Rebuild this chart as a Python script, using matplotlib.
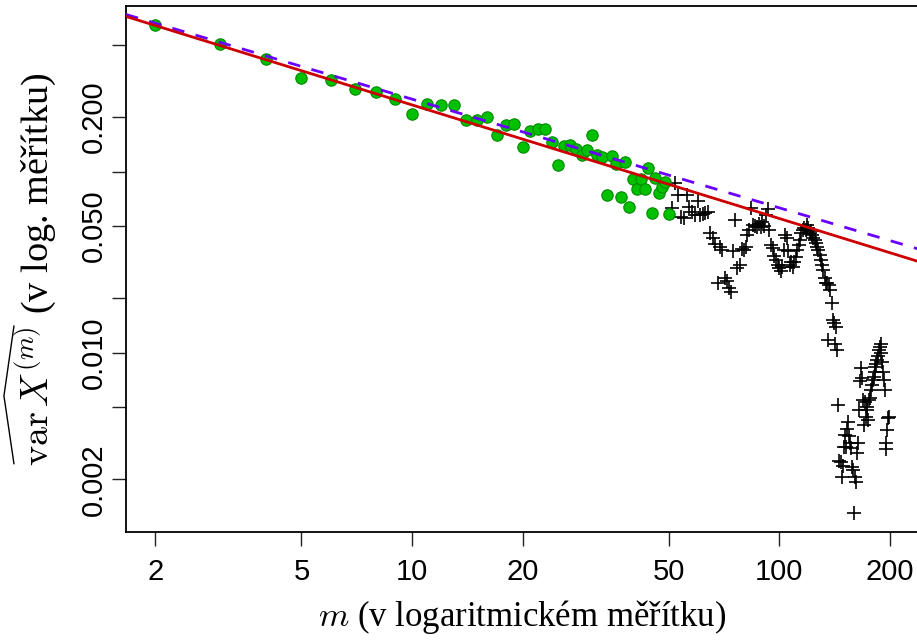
import numpy as np
import matplotlib
matplotlib.use("Agg")
import matplotlib.pyplot as plt
from matplotlib.lines import Line2D

# aggregated variance, m = 2..50 (used for the fit)
m_fit = np.arange(2, 51)
var_fit = [0.643, 0.5095, 0.416, 0.328, 0.319, 0.286, 0.274, 0.253, 0.2086, 0.2375,
           0.2321, 0.232, 0.192, 0.1937, 0.2005, 0.1591, 0.1806, 0.1836, 0.1374, 0.1684,
           0.1717, 0.1713, 0.1459, 0.1093, 0.1379, 0.1397, 0.1340, 0.1237, 0.1312, 0.1601,
           0.1242, 0.1206, 0.0746, 0.1215, 0.1103, 0.0721, 0.1131, 0.0635, 0.0911, 0.0803,
           0.0911, 0.0803, 0.1048, 0.0594, 0.0923, 0.0759, 0.0823, 0.0873, 0.0584]

# aggregated variance, m = 51..199 (not used for the fit)
m_rest = np.arange(51, 200)
var_rest = [0.0632, 0.0869, 0.0747, 0.0564, 0.0557, 0.0747, 0.0641, 0.0601, 0.0579, 0.0691,
            0.0579, 0.0586, 0.0594, 0.0601, 0.0460, 0.0432, 0.0400, 0.0244, 0.0385, 0.0371,
            0.0259, 0.0250, 0.0229, 0.0215, 0.0362, 0.0543, 0.0295, 0.0306, 0.0376, 0.0371,
            0.0385, 0.0449, 0.0478, 0.0632, 0.0510, 0.0503, 0.0497, 0.0516, 0.0497, 0.0529,
            0.0503, 0.0579, 0.0624, 0.0478, 0.0395, 0.0380, 0.0344, 0.0326, 0.0306, 0.0295,
            0.0284, 0.0298, 0.0371, 0.0449, 0.0432, 0.0362, 0.0306, 0.0318, 0.0298, 0.0318,
            0.0339, 0.0371, 0.0395, 0.0421, 0.0460, 0.0478, 0.0491, 0.0478, 0.0510, 0.0491,
            0.0460, 0.0472, 0.0449, 0.0432, 0.0421, 0.0405, 0.0385, 0.0371, 0.0348, 0.0326,
            0.0306, 0.0287, 0.0259, 0.0244, 0.0244, 0.0118, 0.0237, 0.0223, 0.0189, 0.0152,
            0.0146, 0.0111, 0.0139, 0.0104, 0.00516, 0.00253, 0.00250, 0.00207, 0.00237, 0.00303,
            0.00350, 0.00303, 0.00380, 0.00415, 0.00345, 0.00319, 0.00299, 0.00234, 0.00226, 0.00131,
            0.00207, 0.00192, 0.00281, 0.00319, 0.00485, 0.00700, 0.00827, 0.00727, 0.00550, 0.00400,
            0.00536, 0.00444, 0.00503, 0.00485, 0.00426, 0.00550, 0.00564, 0.00625, 0.00666, 0.00709,
            0.00736, 0.00784, 0.00837, 0.00870, 0.00915, 0.00963, 0.0104, 0.0108, 0.0111, 0.0100,
            0.00892, 0.00784, 0.00709, 0.00625, 0.00292, 0.00319, 0.00375, 0.00438, 0.00444]

# lines var = c * m^b
fit_c, fit_b = 0.989, -0.627      # fitted
theo_c, theo_b = 1.0, -0.6        # H = 0.7

xticks = [2, 5, 10, 20, 50, 100, 200]
yticks = [0.002, 0.005, 0.01, 0.02, 0.05, 0.1, 0.2, 0.5]
ylabels = ["0.002", "", "0.010", "", "0.050", "", "0.200", ""]

plt.rcParams["mathtext.fontset"] = "cm"
serif = "Liberation Serif"

fig = plt.figure(figsize=(9.17, 6.42), dpi=100)
ax = fig.add_axes([0.1374, 0.1713, 0.8648, 0.8198])
ax.set_xscale("log")
ax.set_yscale("log")

# R style 4% padding in log space
lx = np.log10([2, 200])
ly = np.log10([min(var_rest), max(var_fit)])
ax.set_xlim(10 ** (lx[0] - 0.04 * np.ptp(lx)), 10 ** (lx[1] + 0.04 * np.ptp(lx)))
ax.set_ylim(10 ** (ly[0] - 0.04 * np.ptp(ly)), 10 ** (ly[1] + 0.04 * np.ptp(ly)))

ax.plot(m_rest, var_rest, "+", color="black", ms=10.5, mew=1.2, zorder=2)
ax.plot(m_fit, var_fit, "o", mfc="#00C000", mec="#008A00", ms=8.2, mew=0.8, zorder=3)

xx = np.array(ax.get_xlim())
ax.plot(xx, theo_c * xx ** theo_b, color="#6A00FF", lw=2.0, dashes=(4.5, 4.2), zorder=4)
ax.plot(xx, fit_c * xx ** fit_b, color="#CC0000", lw=2.0, zorder=5)
ax.set_xlim(xx)

ax.xaxis.set_minor_locator(matplotlib.ticker.NullLocator())
ax.yaxis.set_minor_locator(matplotlib.ticker.NullLocator())
ax.set_xticks(xticks)
ax.set_xticklabels([str(t) for t in xticks], fontfamily="Liberation Sans", fontsize=21)
ax.set_yticks(yticks)
ax.set_yticklabels(ylabels, fontfamily="Liberation Sans", fontsize=21,
                   rotation=90, va="center")
ax.tick_params(length=10, width=1.0, color="#222222")
ax.tick_params(axis="x", pad=9)
ax.tick_params(axis="y", pad=3)
for s in ax.spines.values():
    s.set_linewidth(1.3)

ax.set_xlabel(r"$m$ (v logaritmickém měřítku)", fontfamily=serif,
              fontsize=25, labelpad=8)
ymath = r"$\mathrm{var}\,X^{(m)}$"
ysize = 27.5
ax.set_ylabel(ymath + " (v log. měřítku)", fontfamily=serif, fontsize=ysize, labelpad=15)

# wide hat over "var X^(m)" (label is rotated, so the hat sits on its left)
fig.canvas.draw()
rend = fig.canvas.get_renderer()
bb = ax.yaxis.label.get_window_extent(rend)
tmp = fig.text(0, 0, ymath, fontfamily=serif, fontsize=ysize)
wmath = tmp.get_window_extent(rend).width
tmp.remove()
W, H = fig.bbox.width, fig.bbox.height
hx = np.array([bb.x0 + 1, bb.x0 - 9, bb.x0 + 1]) / W
hy = np.array([bb.y0 + 2, bb.y0 + wmath / 2, bb.y0 + wmath]) / H
fig.add_artist(Line2D(hx, hy, transform=fig.transFigure, color="black", lw=1.0))

fig.savefig("out.png", dpi=100)
